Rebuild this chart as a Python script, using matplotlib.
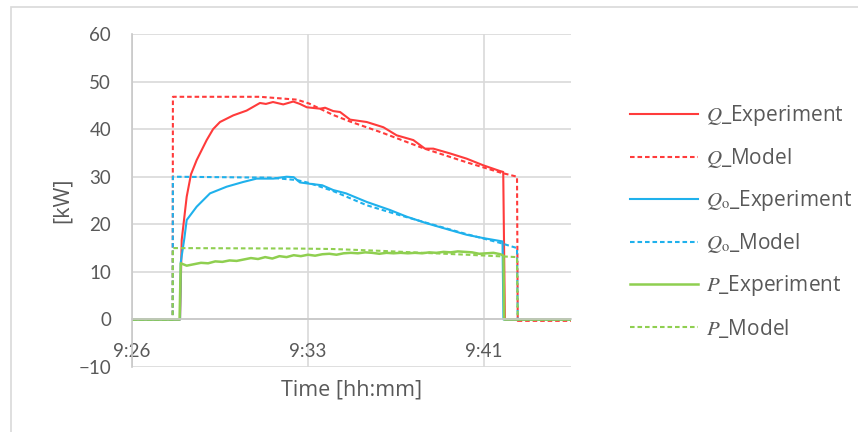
import matplotlib
matplotlib.use("Agg")
import matplotlib.pyplot as plt
from matplotlib.patches import Rectangle

plt.rcParams['font.family'] = ['Lato', 'DejaVu Sans']
plt.rcParams['mathtext.fontset'] = 'stix'

# time axis in minutes after 9:26
tick_pos = [0, 7.4, 14.8]
tick_labels = ['9:26', '9:33', '9:41']

q_exp_t = [0, 2.02, 2.09, 2.30, 2.48, 2.72, 3.14, 3.41, 3.70, 4.26, 4.82, 5.38, 5.63, 5.93,
           6.36, 6.78, 7.06, 7.35, 7.91, 8.12, 8.46, 8.75, 9.17, 9.87, 10.57, 11.13, 11.83,
           12.32, 12.67, 13.37, 14.07, 14.77, 15.47, 15.61, 15.68, 18.46]
q_exp = [0, 0, 16.7, 25.8, 30.5, 33.5, 37.7, 40.0, 41.5, 42.9, 43.9, 45.5, 45.3, 45.7,
         45.2, 45.8, 45.3, 44.6, 44.3, 44.5, 43.8, 43.6, 42.0, 41.5, 40.4, 38.7, 37.7,
         35.9, 35.9, 34.9, 33.8, 32.4, 31.2, 31.0, 0, 0]

q_mod_t = [0, 1.71, 1.72, 5.38, 6.93, 7.44, 8.45, 9.17, 10.55, 12.24, 14.09, 15.47, 16.19, 16.22, 18.46]
q_mod = [0, 0, 46.8, 46.8, 46.2, 45.4, 43.0, 41.6, 39.2, 36.0, 33.0, 30.9, 30.0, -0.3, -0.3]

qo_exp_t = [0, 2.02, 2.05, 2.20, 2.30, 2.72, 3.28, 3.98, 4.68, 5.24, 5.94, 6.50, 6.80, 7.06,
            7.50, 8.00, 8.46, 9.00, 9.87, 10.85, 11.55, 12.40, 13.37, 14.07, 14.77, 15.58, 15.62, 18.46]
qo_exp = [0, 0, 12.0, 17.0, 20.9, 23.7, 26.5, 27.9, 28.9, 29.6, 29.6, 30.0, 29.9, 28.8,
          28.5, 28.2, 27.2, 26.5, 24.7, 23.0, 21.6, 20.2, 18.8, 17.8, 17.1, 16.4, 0, 0]

qo_mod_t = [0, 1.71, 1.72, 5.80, 6.93, 7.44, 8.45, 9.87, 11.20, 12.67, 14.09, 15.47, 16.19, 16.22, 18.46]
qo_mod = [0, 0, 30.0, 29.8, 29.3, 28.7, 27.0, 24.0, 22.0, 19.9, 17.9, 16.1, 15.0, 0, 0]

p_exp_t = [0, 2.0, 2.05, 2.3, 2.6, 2.9, 3.2, 3.5, 3.8, 4.1, 4.4, 4.7, 5.0, 5.3, 5.6, 5.9,
           6.2, 6.5, 6.8, 7.1, 7.4, 7.7, 8.0, 8.3, 8.6, 8.9, 9.2, 9.5, 9.8, 10.1, 10.4,
           10.7, 11.0, 11.3, 11.6, 11.9, 12.2, 12.5, 12.8, 13.1, 13.4, 13.7, 14.0, 14.3,
           14.6, 14.9, 15.2, 15.5, 15.62, 15.65, 18.46]
p_exp = [0, 0, 11.8, 11.3, 11.6, 11.9, 11.8, 12.2, 12.1, 12.4, 12.3, 12.6, 12.9, 12.7, 13.1, 12.8,
         13.3, 13.1, 13.5, 13.3, 13.6, 13.4, 13.7, 13.8, 13.6, 13.9, 14.0, 13.9, 14.1, 14.0, 13.8,
         14.0, 13.9, 14.0, 13.9, 14.0, 13.9, 14.1, 14.0, 14.2, 14.1, 14.3, 14.2, 14.1,
         13.8, 13.9, 14.0, 13.7, 13.4, 0, 0]

p_mod_t = [0, 1.71, 1.72, 6.93, 8.45, 10.55, 12.24, 14.09, 16.19, 16.22, 18.46]
p_mod = [0, 0, 15.0, 14.9, 14.8, 14.4, 14.0, 13.6, 13.1, 0, 0]

RED = '#ff3b3b'
BLUE = '#1fb1ec'
GREEN = '#8fcf50'
TXT = '#595959'
GRID = '#d9d9d9'
dash = (0, (2.2, 1.4))
OPEN = ['Open Sans', 'DejaVu Sans']

fig = plt.figure(figsize=(8.58, 4.32), dpi=100)
fig.patches.append(Rectangle((11/858, -0.1), 1.1, 1 - 7/432 + 0.1, transform=fig.transFigure,
                             fill=False, edgecolor=GRID, lw=1.2))
ax = fig.add_axes([132/858, 1 - 367/432, (571 - 132)/858, 333/432])

lw = 1.5
ax.plot(q_exp_t, q_exp, color=RED, lw=lw, label=r'$Q$_Experiment')
ax.plot(q_mod_t, q_mod, color=RED, lw=lw, ls=dash, label=r'$Q$_Model')
ax.plot(qo_exp_t, qo_exp, color=BLUE, lw=lw, label=r'$Q_\mathrm{o}$_Experiment')
ax.plot(qo_mod_t, qo_mod, color=BLUE, lw=lw, ls=dash, label=r'$Q_\mathrm{o}$_Model')
ax.plot(p_exp_t, p_exp, color=GREEN, lw=lw + 0.3, label=r'$P$_Experiment')
ax.plot(p_mod_t, p_mod, color=GREEN, lw=lw, ls=dash, label=r'$P$_Model')

ax.set_xlim(0, 18.46)
ax.set_ylim(-10, 60)
ax.set_yticks(range(-10, 61, 10))
ax.set_xticks(tick_pos)
ax.set_xticklabels(tick_labels)
ax.grid(True, color=GRID, lw=1.2)
ax.set_axisbelow(True)
for s in ['top', 'right']:
    ax.spines[s].set_visible(False)
ax.spines['left'].set_color('#c8c8c8')
ax.spines['left'].set_linewidth(1.2)
ax.spines['bottom'].set_position(('data', 0))
ax.spines['bottom'].set_color('#c8c8c8')
ax.spines['bottom'].set_linewidth(1.2)
ax.tick_params(axis='both', length=0, labelsize=13.5, colors=TXT)
ax.tick_params(axis='x', pad=17)
ax.tick_params(axis='y', pad=15)

ax.set_xlabel('Time [hh:mm]', fontsize=15.5, color=TXT, family=OPEN)
ax.xaxis.set_label_coords(0.5, -23/333)
ax.xaxis.label.set_va('center')
ax.set_ylabel('[kW]', fontsize=15.5, color=TXT, family=OPEN)
ax.yaxis.set_label_coords(-(132 - 62)/439, 0.5)
ax.yaxis.label.set_va('center')

leg = fig.legend(loc='upper left', bbox_to_anchor=(630/858, 1 - 103/432), frameon=False,
                 prop={'family': OPEN, 'size': 15},
                 handlelength=3.25, handletextpad=0.4, labelspacing=0.87,
                 borderpad=0, borderaxespad=0)
for t in leg.get_texts():
    t.set_color(TXT)

fig.savefig('out.png', dpi=100)
